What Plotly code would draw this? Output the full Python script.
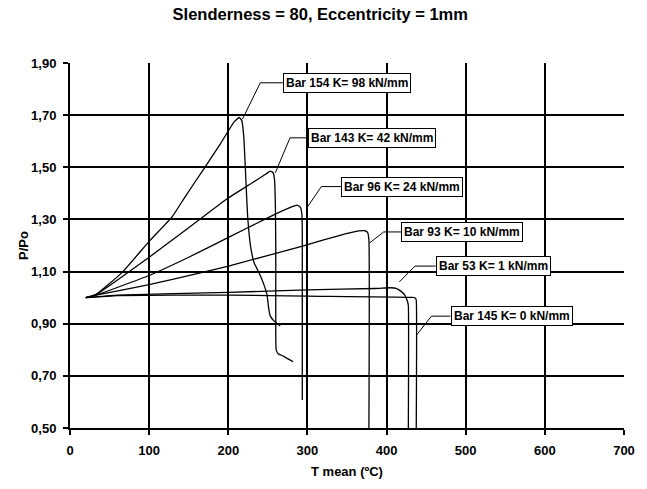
import plotly.graph_objects as go

# Curves (T mean in °C, P/Po)
bar154_x = [20, 33, 66, 100, 129, 145, 170, 190, 207.6, 213.8, 217, 219.5, 221.5, 223, 224.5, 228, 232.5, 238.6, 245, 249, 251, 253, 258, 265.6]
bar154_y = [1.00, 1.013, 1.097, 1.216, 1.31, 1.385, 1.498, 1.59, 1.675, 1.691, 1.68, 1.62, 1.50, 1.40, 1.31, 1.20, 1.135, 1.097, 1.05, 1.01, 0.96, 0.93, 0.91, 0.891]

bar143_x = [20, 33, 100, 150, 199, 230, 248, 253, 256.5, 258.5, 259.5, 260, 260, 260.5, 263, 270, 282]
bar143_y = [1.00, 1.012, 1.155, 1.268, 1.38, 1.44, 1.475, 1.485, 1.48, 1.45, 1.35, 1.20, 0.85, 0.80, 0.785, 0.775, 0.754]

bar96_x = [20, 33, 100, 150, 199, 253, 280, 287, 291, 293, 293.5, 293.5]
bar96_y = [1.00, 1.01, 1.085, 1.155, 1.229, 1.311, 1.348, 1.355, 1.347, 1.32, 1.25, 0.607]

bar93_x = [20, 33, 100, 162, 199, 295, 340, 365, 372, 376, 377.7, 377.7]
bar93_y = [1.00, 1.01, 1.05, 1.093, 1.12, 1.199, 1.238, 1.256, 1.257, 1.25, 1.22, 0.50]

bar53_x = [20, 60, 200, 300, 386, 405, 412, 418, 423, 426.5, 427.5, 427.5]
bar53_y = [1.00, 1.01, 1.02, 1.03, 1.035, 1.038, 1.036, 1.025, 1.01, 0.985, 0.97, 0.50]

bar145_x = [20, 60, 200, 300, 433, 436.5, 437.5, 437.5]
bar145_y = [1.00, 1.008, 1.01, 1.006, 1.001, 0.998, 0.99, 0.50]

curves_x = [bar154_x, bar143_x, bar96_x, bar93_x, bar53_x, bar145_x]
curves_y = [bar154_y, bar143_y, bar96_y, bar93_y, bar53_y, bar145_y]

# Labels
label_texts = ["Bar 154 K= 98 kN/mm", "Bar 143 K= 42 kN/mm", "Bar 96 K= 24 kN/mm",
               "Bar 93 K= 10 kN/mm", "Bar 53 K= 1 kN/mm", "Bar 145 K= 0 kN/mm"]
label_box_x = [269, 301, 342.5, 418.5, 462, 480.8]
label_box_y = [1.824, 1.613, 1.426, 1.252, 1.121, 0.929]
leader_mid_x = [240.4, 278, 317.6, 396.4, 435.9, 456.7]
leader_end_x = [218, 259.4, 299.8, 378.6, 416, 438]
leader_end_y = [1.685, 1.479, 1.347, 1.210, 1.060, 0.857]

x_ticks = [0, 100, 200, 300, 400, 500, 600, 700]
y_ticks = [0.5, 0.7, 0.9, 1.1, 1.3, 1.5, 1.7, 1.9]

fig = go.Figure()

for cx, cy in zip(curves_x, curves_y):
    fig.add_trace(go.Scatter(x=cx, y=cy, mode="lines",
                             line=dict(color="black", width=1.3, shape="spline", smoothing=0.4),
                             showlegend=False, hoverinfo="skip"))

for i in range(len(label_texts)):
    fig.add_trace(go.Scatter(
        x=[label_box_x[i], leader_mid_x[i], leader_end_x[i]],
        y=[label_box_y[i], label_box_y[i], leader_end_y[i]],
        mode="lines", line=dict(color="black", width=1),
        showlegend=False, hoverinfo="skip"))
    fig.add_annotation(x=label_box_x[i], y=label_box_y[i], text=label_texts[i],
                       xanchor="left", yanchor="middle", showarrow=False,
                       font=dict(family="Liberation Sans", size=12, color="black", weight="bold"),
                       bgcolor="white", bordercolor="black", borderwidth=1, borderpad=2)

axis_font = dict(family="Liberation Sans", size=13, color="black", weight="bold")

# y-axis title placed as text beside the axis
fig.add_annotation(xref="paper", yref="paper", x=-0.084, y=0.50, text="P/Po",
                   textangle=-90, showarrow=False, xanchor="center", yanchor="middle",
                   font=axis_font)

fig.update_layout(
    width=647, height=489,
    margin=dict(l=70, r=14, t=63, b=54),
    paper_bgcolor="white", plot_bgcolor="white",
    separators=", ",
    title=dict(text="Slenderness = 80, Eccentricity = 1mm", x=0.495, xanchor="center",
               y=0.97, yanchor="middle",
               font=dict(family="Liberation Sans", size=16.5, color="black", weight="bold")),
    font=dict(family="Liberation Sans", color="black"),
)

fig.update_xaxes(range=[0, 700], tickvals=x_ticks, showgrid=True, gridcolor="black", gridwidth=2,
                 zeroline=False, showline=True, linecolor="black", linewidth=2, mirror=False,
                 ticks="outside", ticklen=5, tickwidth=2, tickcolor="black",
                 tickfont=axis_font, ticklabelstandoff=4,
                 title=dict(text="T mean (ºC)", font=axis_font, standoff=10))
fig.update_yaxes(range=[0.5, 1.9], tickvals=y_ticks, tickformat=".2f", showgrid=True,
                 gridcolor="black", gridwidth=2,
                 zeroline=False, showline=True, linecolor="black", linewidth=2,
                 ticks="outside", ticklen=5, tickwidth=2, tickcolor="black",
                 tickfont=axis_font, ticklabelstandoff=4)

fig.write_html("out.html")
